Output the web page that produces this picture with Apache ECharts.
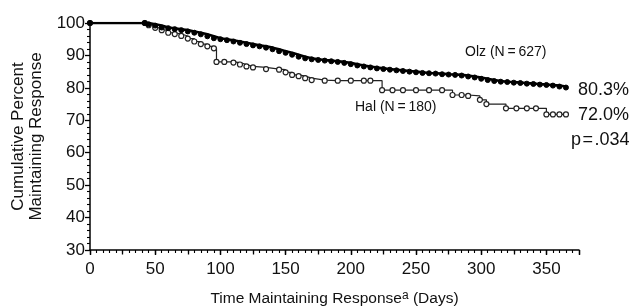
<!DOCTYPE html>
<html><head><meta charset="utf-8">
<script src="https://cdn.jsdelivr.net/npm/echarts@6/dist/echarts.min.js"></script>
<style>html,body{margin:0;padding:0;background:#fff}#c{width:632px;height:308px}</style>
</head><body><div id="c"></div>
<script>
var olzDays = [0,42,45,50,55,60,65,70,75,80,85,90,95,100,105,110,115,120,125,130,135,140,145,150,155,160,165,170,175,180,185,190,195,200,205,210,215,220,225,230,235,240,245,250,255,260,265,270,275,280,285,290,295,300,305,310,315,320,325,330,335,340,345,350,355,360,365];
var olzValues = [100,100,99.6,99.2,98.6,98.4,98.1,97.8,97.4,97.0,96.5,95.9,95.3,95.0,94.7,94.3,93.9,93.5,93.1,92.8,92.4,91.9,91.3,90.8,90.2,89.6,89.1,88.8,88.6,88.4,88.2,88.0,87.7,87.3,86.9,86.6,86.3,86.0,85.8,85.6,85.4,85.2,85.0,84.8,84.6,84.5,84.4,84.2,84.1,84.0,83.8,83.5,83.2,82.8,82.4,82.1,81.9,81.8,81.6,81.5,81.3,81.2,81.0,80.9,80.7,80.4,80.1];
var halDays = [0,42,45,50,55,60,65,70,75,80,85,90,95,97,103,110,115,120,125,135,145,150,155,160,165,170,180,190,200,210,215,224,232,240,250,260,270,278,285,290,299,304,319,327,335,342,350,355,360,365];
var halValues = [100,100,99.3,98.5,97.8,97.0,96.6,96.0,95.2,94.3,93.5,92.8,92.2,88.0,88.0,87.8,87.2,86.6,86.3,85.8,85.6,84.8,84.0,83.6,83.0,82.4,82.2,82.2,82.2,82.2,82.2,79.3,79.3,79.3,79.3,79.3,79.3,77.8,77.8,77.5,76.3,75.0,73.7,73.7,73.7,73.7,71.8,71.8,71.8,71.8];
var xTicks = [0,50,100,150,200,250,300,350];
var yTicks = [30,40,50,60,70,80,90,100];
var labels = {olz:'Olz (N\u2009=\u2009627)', hal:'Hal (N\u2009=\u2009180)', olzPct:'80.3%', halPct:'72.0%', p:'p\u200a=\u200a.034'};

function pairs(d,v){return d.map(function(x,i){return [x,v[i]];});}
var font = 'Liberation Sans, Arial, sans-serif';
var chart = echarts.init(document.getElementById('c'), null, {renderer:'canvas'});
chart.setOption({
  animation:false,
  grid:{left:90,right:53,top:23,bottom:58,containLabel:false,outerBoundsMode:'none'},
  xAxis:[{
    type:'value',min:0,max:375,interval:50,
    axisLine:{lineStyle:{color:'#000',width:1.5}},
    axisTick:{length:5,lineStyle:{color:'#000',width:1.3}},
    minorTick:{show:true,splitNumber:10,length:3,lineStyle:{color:'#000',width:1.1}},
    splitLine:{show:false},
    axisLabel:{color:'#111',fontSize:17,fontFamily:font,margin:11,
      formatter:function(v){return xTicks.indexOf(v)>=0?String(v):'';}},
    name:'{t|Time Maintaining Response}{s|a}{t| (Days)}',
    nameLocation:'middle',nameGap:40,
    nameTextStyle:{rich:{t:{fontSize:15.5,fontFamily:font,color:'#111'},s:{fontSize:12,fontFamily:font,color:'#111',verticalAlign:'top',padding:[0,0,6,0]}}}
  },{
    type:'value',min:0,max:375,interval:25,position:'bottom',
    axisLine:{show:false},axisLabel:{show:false},splitLine:{show:false},
    axisTick:{length:4.5,lineStyle:{color:'#000',width:1.3}}
  }],
  yAxis:{
    type:'value',min:30,max:100,interval:10,
    axisLine:{show:true,lineStyle:{color:'#000',width:1.5}},
    axisTick:{show:true,length:5,lineStyle:{color:'#000',width:1.3}},
    minorTick:{show:true,splitNumber:5,length:3,lineStyle:{color:'#000',width:1.1}},
    splitLine:{show:false},
    axisLabel:{color:'#111',fontSize:17,fontFamily:font,margin:5,
      formatter:function(v){return yTicks.indexOf(v)>=0?String(v):'';}},
    name:'Cumulative Percent\nMaintaining Response',
    nameLocation:'middle',nameGap:44,
    nameTextStyle:{fontSize:17,fontFamily:font,color:'#111',lineHeight:18}
  },
  series:[{
    name:'Hal',type:'line',step:'end',data:pairs(halDays,halValues),
    lineStyle:{color:'#222',width:1.2},
    symbol:'circle',symbolSize:5,showSymbol:true,
    itemStyle:{color:'#fff',borderColor:'#222',borderWidth:1.2}
  },{
    name:'Olz',type:'line',step:'end',data:pairs(olzDays,olzValues),
    lineStyle:{color:'#000',width:2.6},
    symbol:'circle',symbolSize:5,showSymbol:true,
    itemStyle:{color:'#000',borderColor:'#000',borderWidth:1}
  }],
  graphic:[
    {type:'text',left:465,top:45,style:{text:labels.olz,font:'14px '+font,fill:'#111'}},
    {type:'text',left:355,top:100,style:{text:labels.hal,font:'14px '+font,fill:'#111'}},
    {type:'text',left:578,top:81,style:{text:labels.olzPct,font:'18px '+font,fill:'#111'}},
    {type:'text',left:578,top:106,style:{text:labels.halPct,font:'18px '+font,fill:'#111'}},
    {type:'text',left:571,top:131,style:{text:labels.p,font:'18px '+font,fill:'#111'}}
  ]
});
</script></body></html>
